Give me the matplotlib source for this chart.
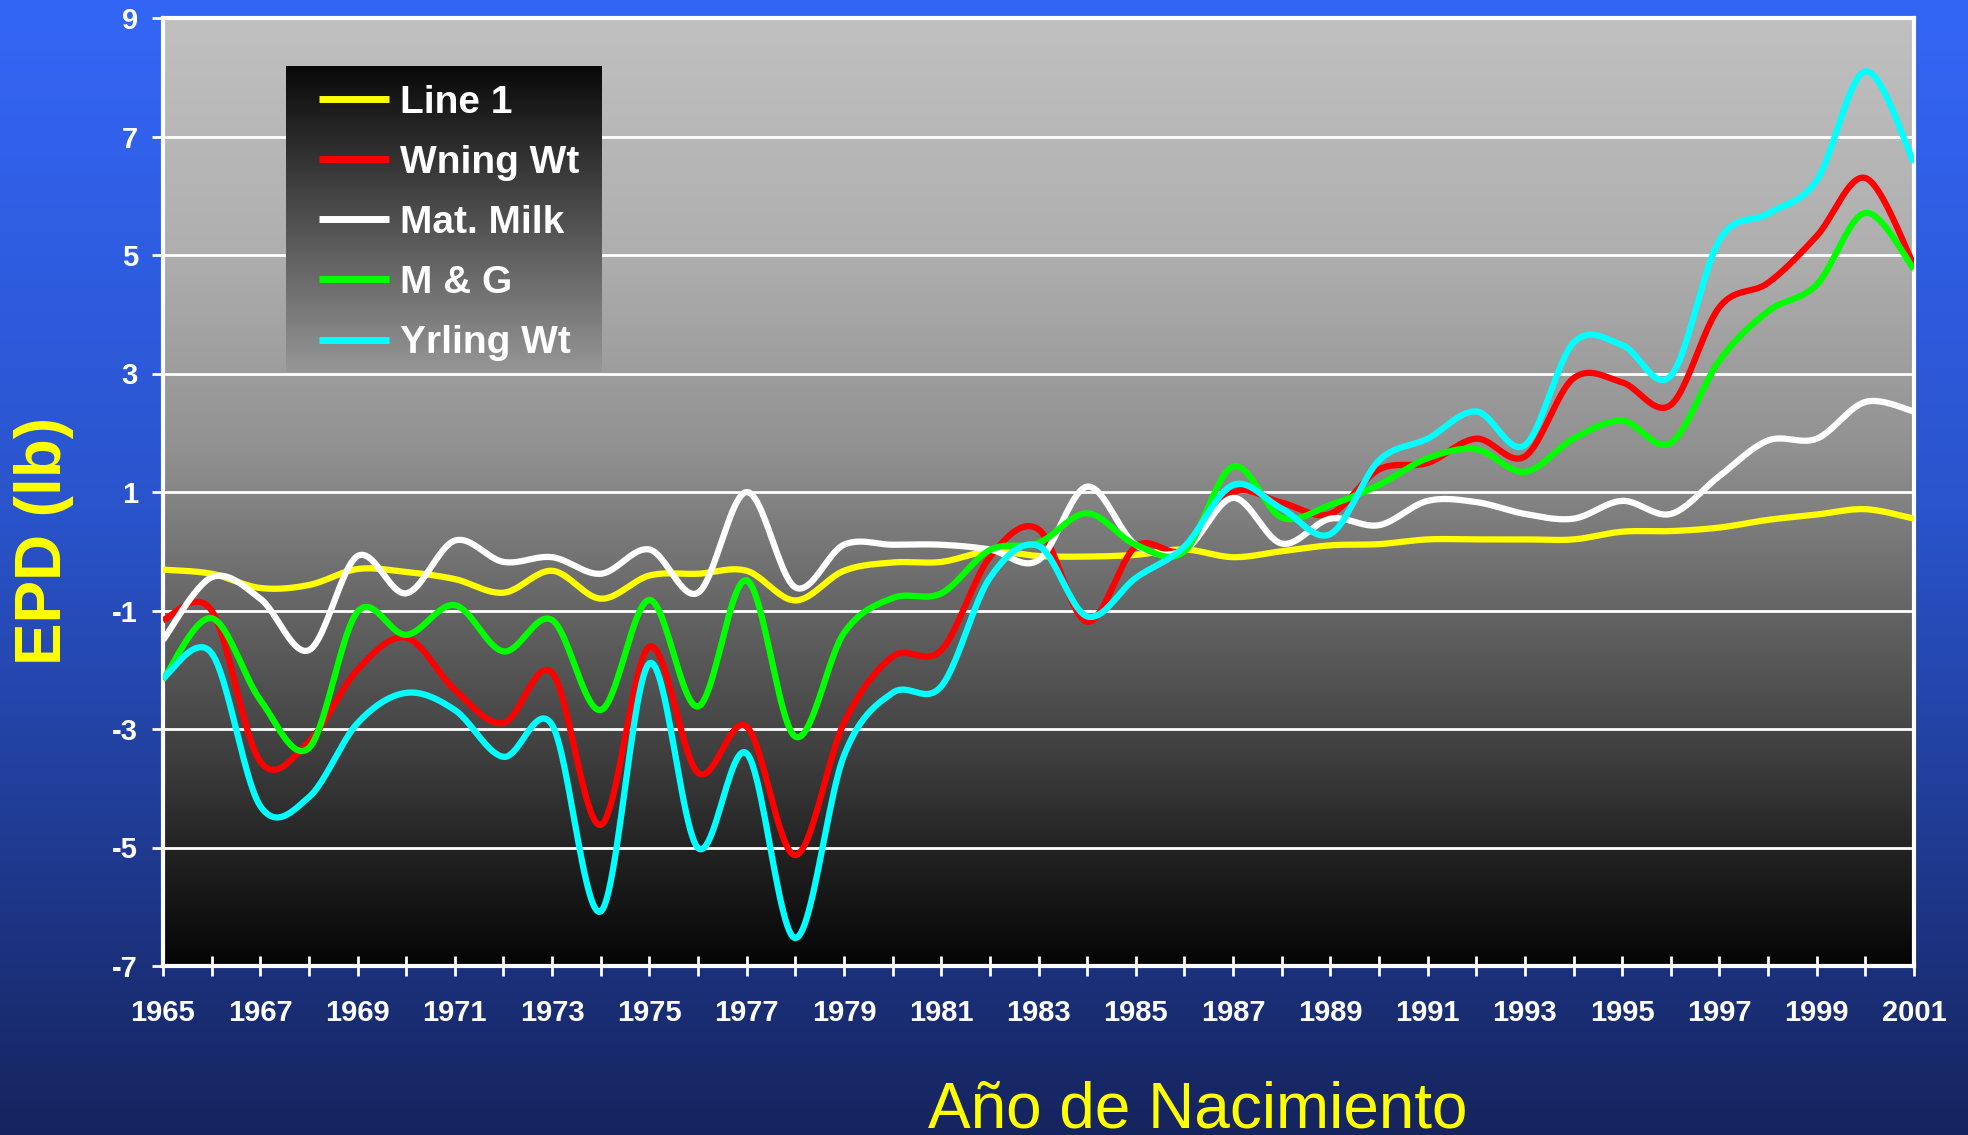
import numpy as np
import matplotlib
matplotlib.use("Agg")
import matplotlib.pyplot as plt

plt.rcParams['font.family'] = ['Liberation Sans', 'DejaVu Sans']
plt.rcParams['axes.unicode_minus'] = False

years = np.arange(1965, 2002)

line_1 = [-0.31, -0.38, -0.62, -0.57, -0.30, -0.35, -0.47, -0.70, -0.33, -0.80,
          -0.41, -0.38, -0.33, -0.83, -0.33, -0.19, -0.18, 0.00, -0.08, -0.09,
          -0.06, 0.03, -0.10, 0.00, 0.10, 0.12, 0.20, 0.20, 0.20, 0.20,
          0.33, 0.34, 0.40, 0.53, 0.62, 0.71, 0.55]
wning_wt = [-1.16, -1.00, -3.55, -3.21, -2.00, -1.46, -2.34, -2.90, -2.05, -4.62,
            -1.61, -3.74, -2.96, -5.13, -2.90, -1.78, -1.67, -0.10, 0.37, -1.19,
            0.08, 0.02, 0.99, 0.82, 0.63, 1.38, 1.49, 1.90, 1.60, 2.92,
            2.85, 2.47, 4.12, 4.53, 5.32, 6.30, 4.83]
mat_milk = [-1.50, -0.44, -0.80, -1.67, -0.08, -0.71, 0.18, -0.18, -0.10, -0.38,
            0.03, -0.70, 1.00, -0.61, 0.11, 0.11, 0.11, 0.03, -0.15, 1.09,
            0.11, 0.02, 0.90, 0.13, 0.55, 0.44, 0.85, 0.83, 0.63, 0.55,
            0.85, 0.63, 1.27, 1.87, 1.90, 2.52, 2.36]
m_and_g = [-2.17, -1.13, -2.51, -3.32, -1.02, -1.41, -0.91, -1.69, -1.16, -2.68,
           -0.82, -2.62, -0.49, -3.13, -1.38, -0.79, -0.71, 0.02, 0.14, 0.64,
           0.11, 0.00, 1.43, 0.57, 0.78, 1.12, 1.57, 1.72, 1.34, 1.90,
           2.20, 1.83, 3.22, 4.05, 4.50, 5.71, 4.76]
yrling_wt = [-2.14, -1.72, -4.30, -4.15, -2.90, -2.39, -2.68, -3.47, -2.93, -6.08,
             -1.89, -5.01, -3.41, -6.53, -3.45, -2.39, -2.28, -0.45, 0.09, -1.10,
             -0.45, 0.08, 1.12, 0.72, 0.29, 1.53, 1.90, 2.36, 1.79, 3.52,
             3.48, 2.96, 5.25, 5.70, 6.26, 8.10, 6.56]

series = [
    ("Line 1", line_1, "#FFFF00"),
    ("Wning Wt", wning_wt, "#FF0000"),
    ("Mat. Milk", mat_milk, "#FFFFFF"),
    ("M & G", m_and_g, "#00FF00"),
    ("Yrling Wt", yrling_wt, "#00FFFF"),
]


def smooth(x, y, n=24):
    # Excel-like smoothed line (uniform Catmull-Rom through every point)
    x = np.asarray(x, float)
    y = np.asarray(y, float)
    px = np.concatenate([[x[0]], x, [x[-1]]])
    py = np.concatenate([[y[0]], y, [y[-1]]])
    t = np.linspace(0, 1, n, endpoint=False)
    xs, ys = [], []
    for i in range(1, len(px) - 2):
        for p, out in ((px, xs), (py, ys)):
            p0, p1, p2, p3 = p[i - 1], p[i], p[i + 1], p[i + 2]
            out.append(0.5 * (2 * p1 + (-p0 + p2) * t
                              + (2 * p0 - 5 * p1 + 4 * p2 - p3) * t ** 2
                              + (-p0 + 3 * p1 - 3 * p2 + p3) * t ** 3))
    xs.append([x[-1]])
    ys.append([y[-1]])
    return np.concatenate(xs), np.concatenate(ys)


def vertical_gradient(stops_t, stops_rgb, n=400):
    t = np.linspace(0, 1, n)
    cols = np.array([np.interp(t, stops_t, [c[k] for c in stops_rgb]) for k in range(3)]).T
    return (cols / 255.0)[:, None, :]


fig = plt.figure(figsize=(19.68, 11.35), dpi=100)

# blue slide background
bg = fig.add_axes([0, 0, 1, 1])
bg.set_zorder(-1)
bg.imshow(vertical_gradient([0, 0.45, 1], [(52, 102, 246), (42, 84, 204), (22, 36, 94)]),
          aspect='auto', extent=[0, 1, 0, 1])
bg.axis('off')

L, R, T, B = 163 / 1968, 1914 / 1968, 1 - 18 / 1135, 1 - 966 / 1135
ax = fig.add_axes([L, B, R - L, T - B])
ax.patch.set_visible(False)
ax.imshow(vertical_gradient([0, 0.245, 0.456, 0.626, 0.751, 0.877, 1],
                            [(192,) * 3, (175,) * 3, (145,) * 3, (100,) * 3,
                             (70,) * 3, (35,) * 3, (5,) * 3]),
          aspect='auto', extent=[1965, 2001, -7, 9], zorder=0)

ax.set_axisbelow(True)
ax.grid(axis='y', color='white', linewidth=2)

for name, vals, col in series:
    sx, sy = smooth(years, vals)
    ax.plot(sx, sy, color=col, linewidth=4.5, label=name, zorder=3,
            solid_capstyle='butt', solid_joinstyle='round')

ax.set_xlim(1965, 2001)
ax.set_ylim(-7, 9)
ax.set_yticks(np.arange(-7, 10, 2))
ax.set_xticks(years)
ax.set_xticklabels([str(y) if (y - 1965) % 2 == 0 else '' for y in years])

for s in ax.spines.values():
    s.set_color('white')
    s.set_linewidth(3)
ax.tick_params(axis='y', colors='white', direction='out', length=8, width=2,
               labelsize=21, pad=10)
ax.tick_params(axis='x', colors='white', direction='inout', length=14, width=2,
               labelsize=21, pad=17)
for lab in ax.get_xticklabels() + ax.get_yticklabels():
    lab.set_fontweight('bold')

fig.text(44 / 1968, 1 - 541 / 1135, "EPD (lb)", rotation=90, color='#FFFF00',
         fontsize=46, fontweight='bold', ha='center', va='center')
fig.text(1198 / 1968, 1 - 1128 / 1135, "Año de Nacimiento", color='#FFFF00',
         fontsize=46, ha='center', va='baseline')

# legend with dark-to-grey gradient box
lx0, lx1, ly0, ly1 = 286, 602, 66, 372
lax = fig.add_axes([lx0 / 1968, 1 - ly1 / 1135, (lx1 - lx0) / 1968, (ly1 - ly0) / 1135])
lax.imshow(vertical_gradient([0, 1], [(8, 8, 8), (150, 150, 150)]),
           aspect='auto', extent=[0, 1, 0, 1])
lax.set_xlim(0, 1)
lax.set_ylim(0, 1)
lax.axis('off')
handles, labels = ax.get_legend_handles_labels()
leg = lax.legend(handles, labels, loc='upper left', bbox_to_anchor=(0.045, 1.0),
                 frameon=False, handlelength=1.8, handletextpad=0.28,
                 labelspacing=0.62, borderpad=0.48, borderaxespad=0.0,
                 prop={'weight': 'bold', 'size': 28})
for txt in leg.get_texts():
    txt.set_color('white')
for ln in leg.get_lines():
    ln.set_linewidth(5)

fig.savefig('out.png', dpi=100)
